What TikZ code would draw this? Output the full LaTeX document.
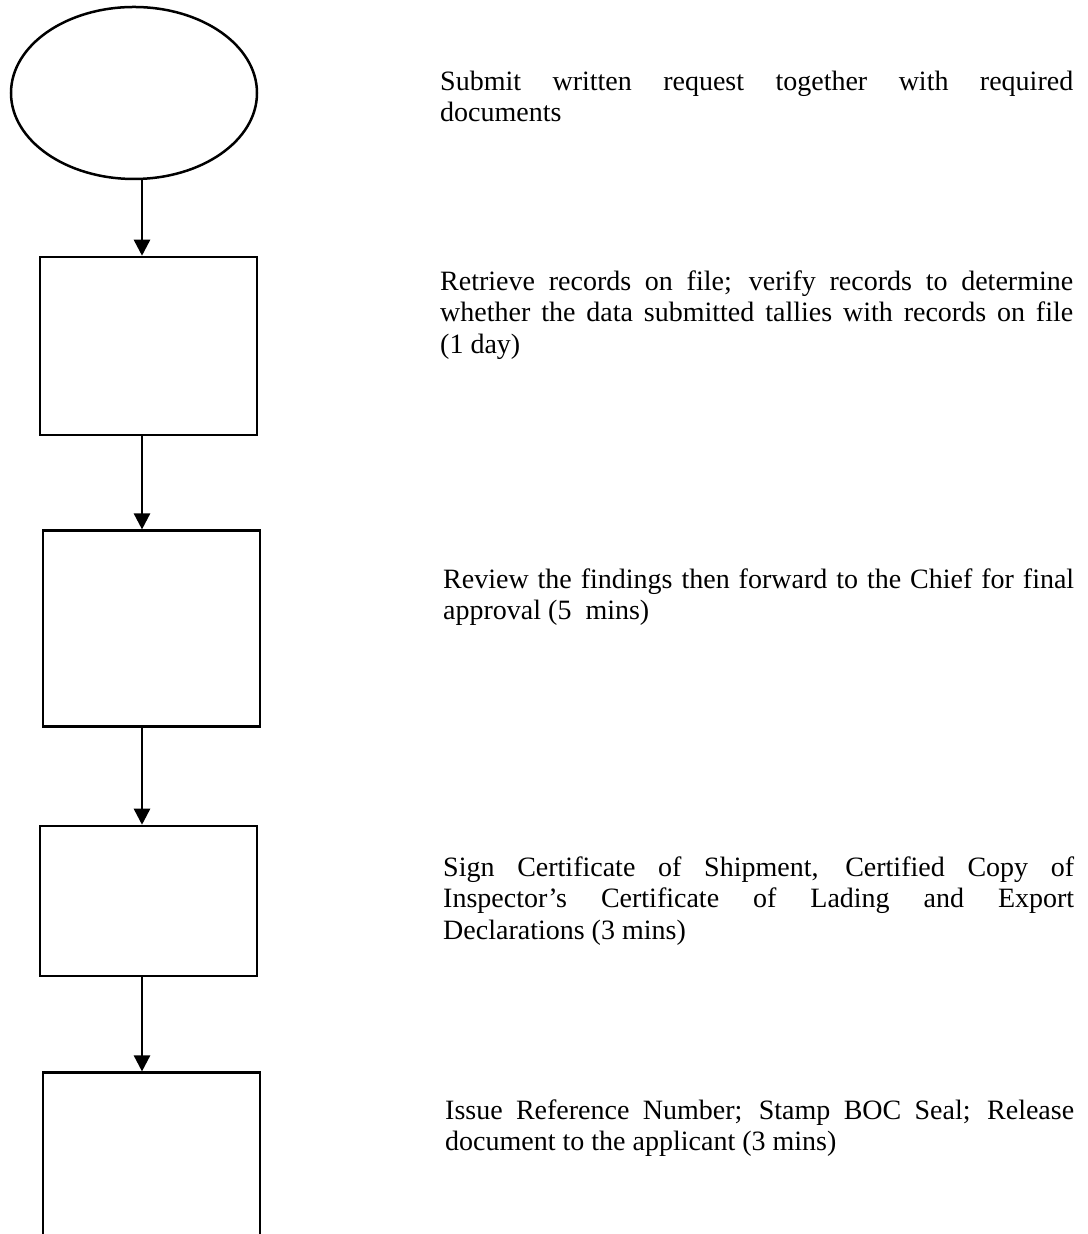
\documentclass[tikz,border=0pt]{standalone}
\usepackage{fontspec}
\setmainfont{Liberation Serif}
\usetikzlibrary{shapes.geometric,arrows.meta}
\setlength{\parindent}{0pt}
\hyphenpenalty=10000
\hbadness=10000
\begin{document}
\begin{tikzpicture}[x=1pt,y=1pt,
  outline/.style={draw=black,line width=2.5pt},
  stepbox/.style={outline,rectangle,inner sep=0pt,minimum width=217pt},
  startoval/.style={outline,ellipse,inner sep=0pt,minimum width=246pt,minimum height=172pt},
  flow/.style={line width=2.5pt,-{Triangle[length=16pt,width=16pt]}},
  note/.style={anchor=north west,inner sep=0pt,align=justify,
    font=\fontsize{28}{31.5}\selectfont}
]
% page frame: 1087 x 1234, origin at the bottom left
\useasboundingbox (0,0) rectangle (1087,1234);
\clip (0,0) rectangle (1087,1234);

% flow chart column
\node[startoval] (start) at (134,1141) {};
\node[stepbox,minimum height=178pt] (b1) at (148.5,888) {};
\node[stepbox,minimum height=196pt] (b2) at (151.5,605.3) {};
\node[stepbox,minimum height=150pt] (b3) at (148.5,333) {};
\node[stepbox,minimum height=200pt] (b4) at (151.5,61.3) {};

% arrows run down one common vertical line
\coordinate (ax) at (142,0);
\draw[flow] (start.south -| ax) -- (b1.north -| ax);
\draw[flow] (b1.south -| ax) -- (b2.north -| ax);
\draw[flow] (b2.south -| ax) -- (b3.north -| ax);
\draw[flow] (b3.south -| ax) -- (b4.north -| ax);

% step descriptions
\node[note,text width=633pt] (t0) at (440,1166)
  {\strut Submit written request together with required\linebreak documents};
\node[note,text width=633pt] (t1) at (440,966)
  {\strut Retrieve records on file; verify records to determine\linebreak
   whether the data submitted tallies with records on file\linebreak (1 day)};
\node[note,text width=631pt] (t2) at (443,668)
  {\strut Review the findings then forward to the Chief for final\linebreak
   approval (5\ \ mins)};
\node[note,text width=631pt] (t3) at (443,380)
  {\strut Sign Certificate of Shipment, Certified Copy of\linebreak
   Inspector’s Certificate of Lading and Export\linebreak
   Declarations (3 mins)};
\node[note,text width=629pt] (t4) at (445,137)
  {\strut Issue Reference Number; Stamp BOC Seal; Release\linebreak
   document to the applicant (3 mins)};
\end{tikzpicture}
\end{document}
